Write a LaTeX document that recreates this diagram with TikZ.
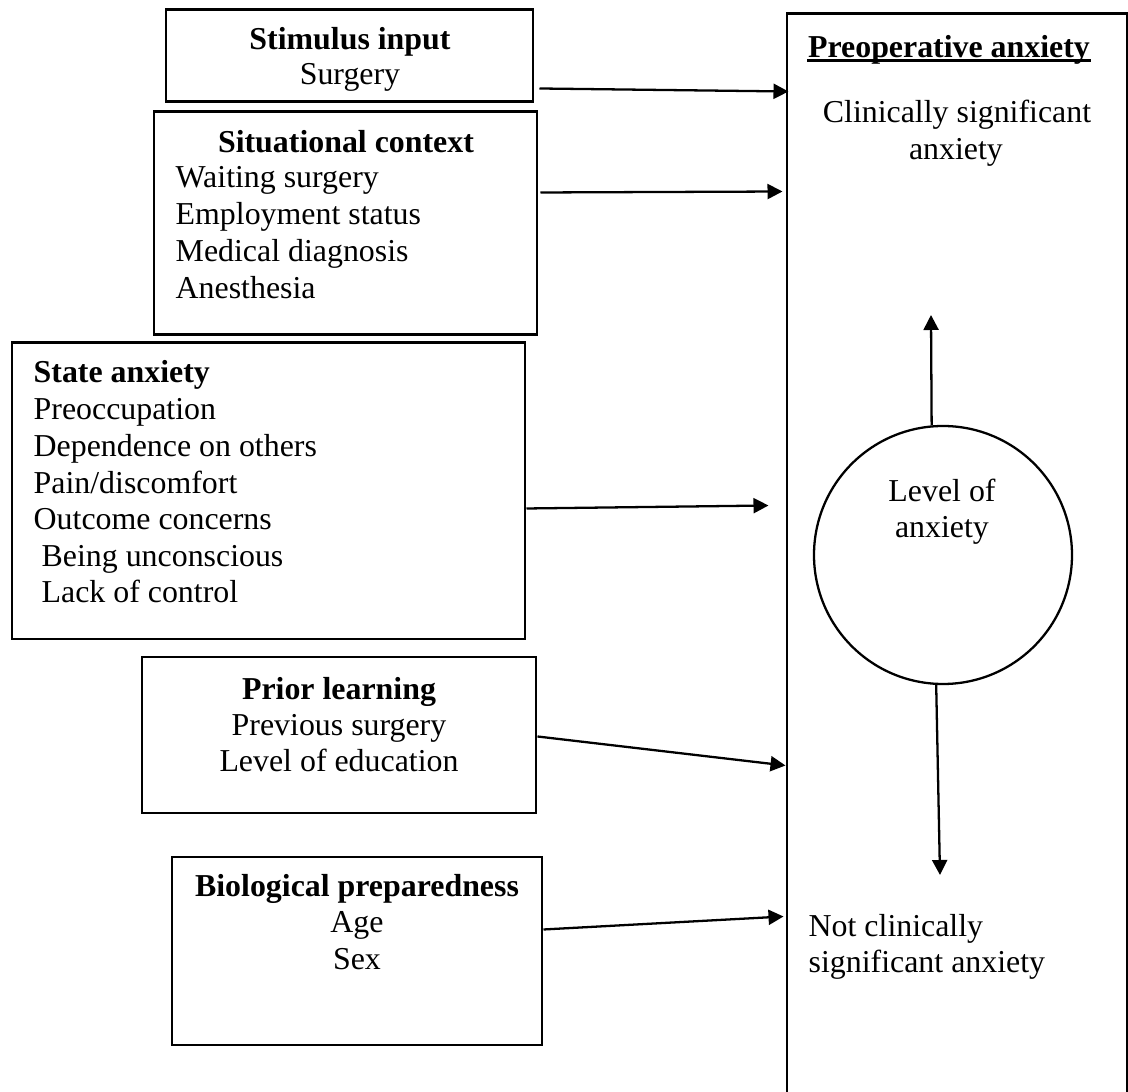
\documentclass[tikz,border=0pt]{standalone}
\usepackage{fontspec}
\setmainfont{Liberation Serif}
\usetikzlibrary{arrows.meta,positioning}

\begin{document}
\begin{tikzpicture}[every node/.style={font=\fontsize{9.07pt}{10.5pt}\selectfont,inner sep=0pt},
  box/.style={draw,line width=.85pt,inner sep=0pt},
  arr/.style={-{Triangle[length=1.5mm,width=1.5mm]},line width=.65pt}]
\useasboundingbox (0,0) rectangle (11.28,-10.92);
% boxes on the left
\node[box,minimum width=3.67cm,minimum height=0.92cm] (stim) at (3.495,-0.560) {};
\node[box,minimum width=3.83cm,minimum height=2.23cm] (situ) at (3.455,-2.235) {};
\node[box,minimum width=5.13cm,minimum height=2.96cm] (state) at (2.685,-4.910) {};
\node[box,minimum width=3.94cm,minimum height=1.56cm] (prior) at (3.390,-7.350) {};
\node[box,minimum width=3.70cm,minimum height=1.88cm] (bio) at (3.570,-9.510) {};
% box on the right, open at the bottom
\node[box,minimum width=3.40cm,minimum height=11.30cm] (pre) at (9.570,-5.790) {};
\node[draw,circle,line width=.65pt,minimum size=2.58cm] (lvl) at (9.430,-5.550) {};

\node[anchor=base] (stimhd) at (3.500,-0.500) {\textbf{Stimulus input}};
\node[anchor=base] (stim1) at (3.500,-0.850) {Surgery};

\node[anchor=base] (situhd) at (3.460,-1.530) {\textbf{Situational context}};
\foreach \t [count=\i] in {Waiting surgery,Employment status,Medical diagnosis,Anesthesia}
  \node[anchor=base west] (situ\i) at (1.750,{-1.880-0.367*(\i-1)}) {\t};

\node[anchor=base west] (statehd) at (0.330,-3.830) {\textbf{State anxiety}};
\foreach \t [count=\i] in {Preoccupation,Dependence on others,Pain/discomfort,Outcome concerns,{\ Being unconscious},{\ Lack of control}}
  \node[anchor=base west] (state\i) at (0.330,{-4.200-0.366*(\i-1)}) {\t};

\node[anchor=base] (priorhd) at (3.390,-7.000) {\textbf{Prior learning}};
\node[anchor=base] (prior1) at (3.390,-7.360) {Previous surgery};
\node[anchor=base] (prior2) at (3.390,-7.720) {Level of education};

\node[anchor=base] (biohd) at (3.570,-8.970) {\textbf{Biological preparedness}};
\node[anchor=base] (bio1) at (3.570,-9.330) {Age};
\node[anchor=base] (bio2) at (3.570,-9.700) {Sex};

\node[anchor=base] (prehd) at (9.490,-0.580) {\textbf{Preoperative anxiety}};
\draw[line width=.85pt] ([yshift=-0.03cm]prehd.base west) -- ([yshift=-0.03cm]prehd.base east);
\node[anchor=base] (hi1) at (9.570,-1.230) {Clinically significant};
\node[anchor=base] (hi2) at (9.560,-1.600) {anxiety};
\node[anchor=base] (lvl1) at (9.420,-5.020) {Level of};
\node[anchor=base] (lvl2) at (9.420,-5.380) {anxiety};
\node[anchor=base west] (lo1) at (8.080,-9.370) {Not clinically};
\node[anchor=base west] (lo2) at (8.080,-9.730) {significant anxiety};

% arrows into the right box
\draw[arr] ([xshift=0.05cm,yshift=0.15cm]stim.south east) -- ([xshift=0.03cm,yshift=-0.79cm]pre.north west);
\draw[arr] ([xshift=0.02cm,yshift=1.44cm]situ.south east) -- ([xshift=-0.03cm,yshift=-1.79cm]pre.north west);
\draw[arr] ([yshift=1.32cm]state.south east) -- ([xshift=-0.17cm,yshift=-4.93cm]pre.north west);
\draw[arr] ([yshift=0.78cm]prior.south east) -- ([yshift=-7.53cm]pre.north west);
\draw[arr] ([yshift=1.17cm]bio.south east) -- ([xshift=-0.02cm,yshift=-9.04cm]pre.north west);

\coordinate (hiend) at (9.310,-3.150);
\coordinate (loend) at (9.400,-8.750);
\draw[arr] (lvl.95) -- (hiend);
\draw[arr] (lvl.267) -- (loend);
\end{tikzpicture}
\end{document}
